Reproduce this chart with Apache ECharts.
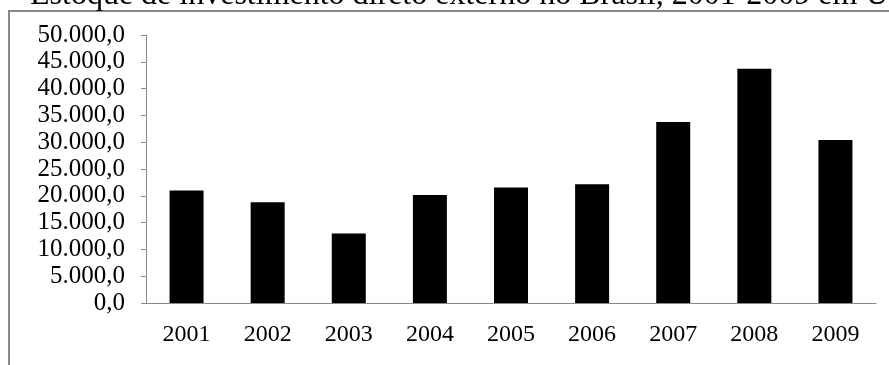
<!DOCTYPE html>
<html>
<head>
<meta charset="utf-8">
<script src="https://cdn.jsdelivr.net/npm/echarts@6/dist/echarts.min.js"></script>
<style>
  html, body { margin: 0; padding: 0; background: #fff; }
  #chart { width: 889px; height: 365px; }
</style>
</head>
<body>
<div id="chart"></div>
<script>
// dados do gráfico
const anos = ['2001', '2002', '2003', '2004', '2005', '2006', '2007', '2008', '2009'];
const estoque = [21000, 18800, 12950, 20150, 21550, 22150, 33750, 43700, 30400];
const tituloTexto = 'Estoque de investimento direto externo no Brasil, 2001-2009 em US$ milhões';

const fonte = '"Liberation Serif", "Times New Roman", serif';

// formato brasileiro: 50.000,0
function fmt(v) {
    return v.toLocaleString('pt-BR', { minimumFractionDigits: 1, maximumFractionDigits: 1 });
}

const chart = echarts.init(document.getElementById('chart'), null, { renderer: 'canvas' });

chart.setOption({
    animation: false,
    backgroundColor: '#fff',
    title: {
        text: tituloTexto,
        left: 30,
        top: -20,
        padding: 0,
        textStyle: { fontFamily: fonte, fontSize: 32, fontWeight: 'normal', color: '#000' }
    },
    // moldura cinza do gráfico original (recortada à direita e embaixo)
    graphic: [{
        type: 'rect',
        shape: { x: 9, y: 11, width: 1000, height: 1000 },
        style: { fill: 'none', stroke: '#8a8a8a', lineWidth: 2 },
        silent: true
    }],
    grid: { left: 146, right: 13, top: 35, bottom: 62 },
    xAxis: {
        type: 'category',
        data: anos,
        axisLine: { lineStyle: { color: '#8a8a8a', width: 1 } },
        axisTick: { length: 6, lineStyle: { color: '#8a8a8a' } },
        axisLabel: { fontFamily: fonte, fontSize: 24, color: '#000', margin: 20 }
    },
    yAxis: {
        type: 'value',
        min: 0,
        max: 50000,
        interval: 5000,
        axisLine: { show: true, lineStyle: { color: '#8a8a8a', width: 1 } },
        axisTick: { show: true, length: 5, lineStyle: { color: '#8a8a8a' } },
        splitLine: { show: false },
        axisLabel: { fontFamily: fonte, fontSize: 25, color: '#000', margin: 21, formatter: fmt }
    },
    series: [{
        type: 'bar',
        data: estoque,
        barWidth: 34,
        itemStyle: { color: '#000' }
    }]
});
</script>
</body>
</html>
